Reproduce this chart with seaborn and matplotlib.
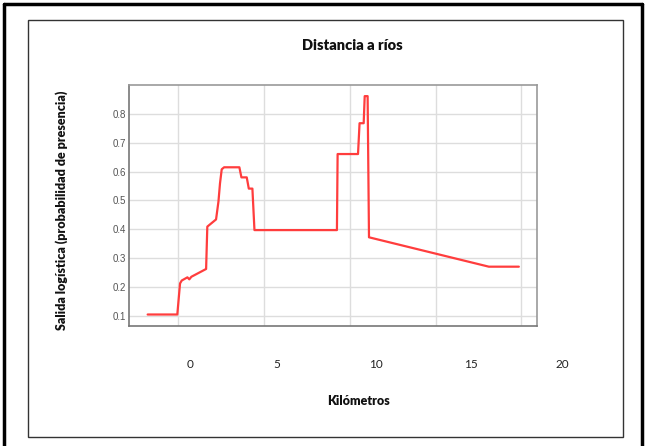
import matplotlib
matplotlib.use("Agg")
import matplotlib.pyplot as plt
import numpy as np
import pandas as pd
import seaborn as sns
from matplotlib.patches import Rectangle
from matplotlib.lines import Line2D

# response curve (km, logistic output)
km = [-1.79, -0.06, 0.10, 0.20, 0.53, 0.64, 0.76, 1.62, 1.69, 2.20, 2.34, 2.43,
      2.53, 2.67, 3.56, 3.68, 3.99, 4.11, 4.32, 4.44, 9.25, 9.29, 10.48, 10.57,
      10.81, 10.87, 11.04, 11.12, 18.11, 19.86]
salida = [0.104, 0.104, 0.212, 0.222, 0.233, 0.226, 0.235, 0.262, 0.409, 0.434,
          0.496, 0.559, 0.608, 0.615, 0.615, 0.580, 0.580, 0.541, 0.541, 0.397,
          0.397, 0.661, 0.661, 0.768, 0.768, 0.862, 0.862, 0.372, 0.270, 0.270]
x_grid = [0, 5, 10, 15, 20]
x_labels = ["0", "5", "10", "15", "20"]
y_ticks = [0.1, 0.2, 0.3, 0.4, 0.5, 0.6, 0.7, 0.8]

df = pd.DataFrame({"km": km, "salida": salida})

sns.set_style("white")
plt.rcParams["font.family"] = ["Lato", "DejaVu Sans"]

fig = plt.figure(figsize=(6.48, 4.46), dpi=100)
ax = fig.add_axes([0.199, 0.269, 0.630, 0.540])

sns.lineplot(data=df, x="km", y="salida", ax=ax, color="#ff3d3d", lw=1.6,
             estimator=None, sort=False)

ax.set_xlim(-2.88, 20.93)
ax.set_ylim(0.064, 0.90)
ax.set_xticks(x_grid)
ax.set_xticklabels([])
ax.set_yticks(y_ticks)
ax.set_yticklabels([f"{v:.1f}" for v in y_ticks], fontsize=7, color="#555555",
                   family=["Liberation Sans"])
ax.tick_params(axis="y", length=0, pad=2)
ax.tick_params(axis="x", length=0)
ax.grid(True, color="#dddddd", lw=1)
ax.set_xlabel("")
ax.set_ylabel("")
for side, sp in ax.spines.items():
    sp.set_visible(True)
    sp.set_color("#999999" if side in ("top", "right") else "#777777")
    sp.set_linewidth(1.2)

# tick labels sit offset from the gridlines, as in the source
for lab, xf in zip(x_labels, [0.293, 0.427, 0.580, 0.727, 0.867]):
    fig.text(xf, 0.182, lab, ha="center", va="center", fontsize=8.5, color="#222222")

fig.text(0.543, 0.899, "Distancia a ríos", ha="center", va="center",
         fontsize=10.5, fontweight="heavy", color="#111111")
fig.text(0.554, 0.101, "Kilómetros", ha="center", va="center",
         fontsize=9, fontweight="heavy", color="#111111")
fig.text(0.0957, 0.529, "Salida logística (probabilidad de presencia)", ha="center",
         va="center", rotation=90, fontsize=9, fontweight="heavy", color="#111111")

# frames around the figure
fig.patches.append(Rectangle((28 / 648, 1 - 437 / 446), (623 - 28) / 648, (437 - 20) / 446,
                             transform=fig.transFigure, fill=False, ec="#333333", lw=1))
for xs, ys in [([4 / 648, 4 / 648], [0, 1 - 4 / 446]),
               ([4 / 648, 642 / 648], [1 - 4 / 446, 1 - 4 / 446]),
               ([642 / 648, 642 / 648], [0, 1 - 4 / 446])]:
    fig.lines.append(Line2D(xs, ys, transform=fig.transFigure, color="black", lw=2.5))

fig.savefig("out.png", dpi=100, facecolor="white")
